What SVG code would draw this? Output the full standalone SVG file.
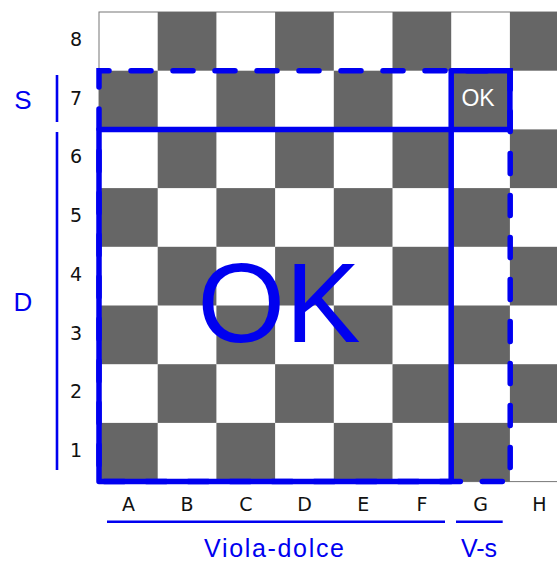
<svg xmlns="http://www.w3.org/2000/svg" width="557" height="563" viewBox="0 0 557 563">
<style>
.dk{fill:#666666}
.lbl{font-family:"DejaVu Sans",Verdana,sans-serif;font-size:19px;fill:#111;text-anchor:middle}
.bl{font-family:"Liberation Sans",Arial,sans-serif;fill:#0000F0;text-anchor:middle}
.solid{fill:none;stroke:#0000F0;stroke-width:5.5;stroke-linejoin:round;stroke-linecap:round}
.dash{fill:none;stroke:#0000F0;stroke-width:5.5;stroke-linecap:round;stroke-dasharray:20 22;stroke-dashoffset:10}
.thin{stroke:#0000F0;stroke-width:2.6}
</style>
<rect width="557" height="563" fill="#ffffff"/>
<g id="board">
<rect x="99" y="12" width="469.6" height="469.6" fill="#ffffff" stroke="#777" stroke-width="1"/>
<g id="dark-squares">
<rect class="dk" x="157.7" y="12" width="58.7" height="58.7"/>
<rect class="dk" x="275.1" y="12" width="58.7" height="58.7"/>
<rect class="dk" x="392.5" y="12" width="58.7" height="58.7"/>
<rect class="dk" x="509.9" y="12" width="58.7" height="58.7"/>
<rect class="dk" x="99" y="70.7" width="58.7" height="58.7"/>
<rect class="dk" x="216.4" y="70.7" width="58.7" height="58.7"/>
<rect class="dk" x="333.8" y="70.7" width="58.7" height="58.7"/>
<rect class="dk" x="451.2" y="70.7" width="58.7" height="58.7"/>
<rect class="dk" x="157.7" y="129.4" width="58.7" height="58.7"/>
<rect class="dk" x="275.1" y="129.4" width="58.7" height="58.7"/>
<rect class="dk" x="392.5" y="129.4" width="58.7" height="58.7"/>
<rect class="dk" x="509.9" y="129.4" width="58.7" height="58.7"/>
<rect class="dk" x="99" y="188.1" width="58.7" height="58.7"/>
<rect class="dk" x="216.4" y="188.1" width="58.7" height="58.7"/>
<rect class="dk" x="333.8" y="188.1" width="58.7" height="58.7"/>
<rect class="dk" x="451.2" y="188.1" width="58.7" height="58.7"/>
<rect class="dk" x="157.7" y="246.8" width="58.7" height="58.7"/>
<rect class="dk" x="275.1" y="246.8" width="58.7" height="58.7"/>
<rect class="dk" x="392.5" y="246.8" width="58.7" height="58.7"/>
<rect class="dk" x="509.9" y="246.8" width="58.7" height="58.7"/>
<rect class="dk" x="99" y="305.5" width="58.7" height="58.7"/>
<rect class="dk" x="216.4" y="305.5" width="58.7" height="58.7"/>
<rect class="dk" x="333.8" y="305.5" width="58.7" height="58.7"/>
<rect class="dk" x="451.2" y="305.5" width="58.7" height="58.7"/>
<rect class="dk" x="157.7" y="364.2" width="58.7" height="58.7"/>
<rect class="dk" x="275.1" y="364.2" width="58.7" height="58.7"/>
<rect class="dk" x="392.5" y="364.2" width="58.7" height="58.7"/>
<rect class="dk" x="509.9" y="364.2" width="58.7" height="58.7"/>
<rect class="dk" x="99" y="422.9" width="58.7" height="58.7"/>
<rect class="dk" x="216.4" y="422.9" width="58.7" height="58.7"/>
<rect class="dk" x="333.8" y="422.9" width="58.7" height="58.7"/>
<rect class="dk" x="451.2" y="422.9" width="58.7" height="58.7"/>
</g>
</g>
<g id="row-labels">
<text class="lbl" x="76" y="46">8</text>
<text class="lbl" x="76" y="104.7">7</text>
<text class="lbl" x="76" y="163.4">6</text>
<text class="lbl" x="76" y="222.1">5</text>
<text class="lbl" x="76" y="280.8">4</text>
<text class="lbl" x="76" y="339.5">3</text>
<text class="lbl" x="76" y="398.2">2</text>
<text class="lbl" x="76" y="456.9">1</text>
</g>
<g id="col-labels">
<text class="lbl" x="128.4" y="511">A</text>
<text class="lbl" x="187.1" y="511">B</text>
<text class="lbl" x="245.8" y="511">C</text>
<text class="lbl" x="304.5" y="511">D</text>
<text class="lbl" x="363.2" y="511">E</text>
<text class="lbl" x="421.9" y="511">F</text>
<text class="lbl" x="480.6" y="511">G</text>
<text class="lbl" x="539.3" y="511">H</text>
</g>
<g id="connectors">
<rect id="region-dashed" class="dash" x="99" y="70.7" width="411.2" height="410.9"/>
<rect id="region-main" class="solid" x="99" y="129.4" width="352.2" height="352.2"/>
<rect id="region-g7" class="solid" x="451.2" y="70.7" width="58.7" height="58.7"/>
<line class="thin" x1="57" y1="75" x2="57" y2="122"/>
<line class="thin" x1="57" y1="132" x2="57" y2="470"/>
<line class="thin" x1="107" y1="521.7" x2="445" y2="521.7"/>
<line class="thin" x1="456" y1="521.7" x2="502.7" y2="521.7"/>
</g>
<g id="node-ok-big">
<text class="bl" x="279" y="341.7" font-size="113">OK</text>
</g>
<g id="node-ok-small">
<text x="478" y="106" font-family="Liberation Sans, Arial, sans-serif" font-size="23" fill="#ffffff" text-anchor="middle">OK</text>
</g>
<g id="node-s"><text class="bl" x="23" y="109" font-size="26">S</text></g>
<g id="node-d"><text class="bl" x="23" y="311" font-size="26">D</text></g>
<g id="node-viola"><text class="bl" x="274" y="557" font-size="25" textLength="140" lengthAdjust="spacing">Viola-dolce</text></g>
<g id="node-vs"><text class="bl" x="479" y="557" font-size="25">V-s</text></g>
</svg>
